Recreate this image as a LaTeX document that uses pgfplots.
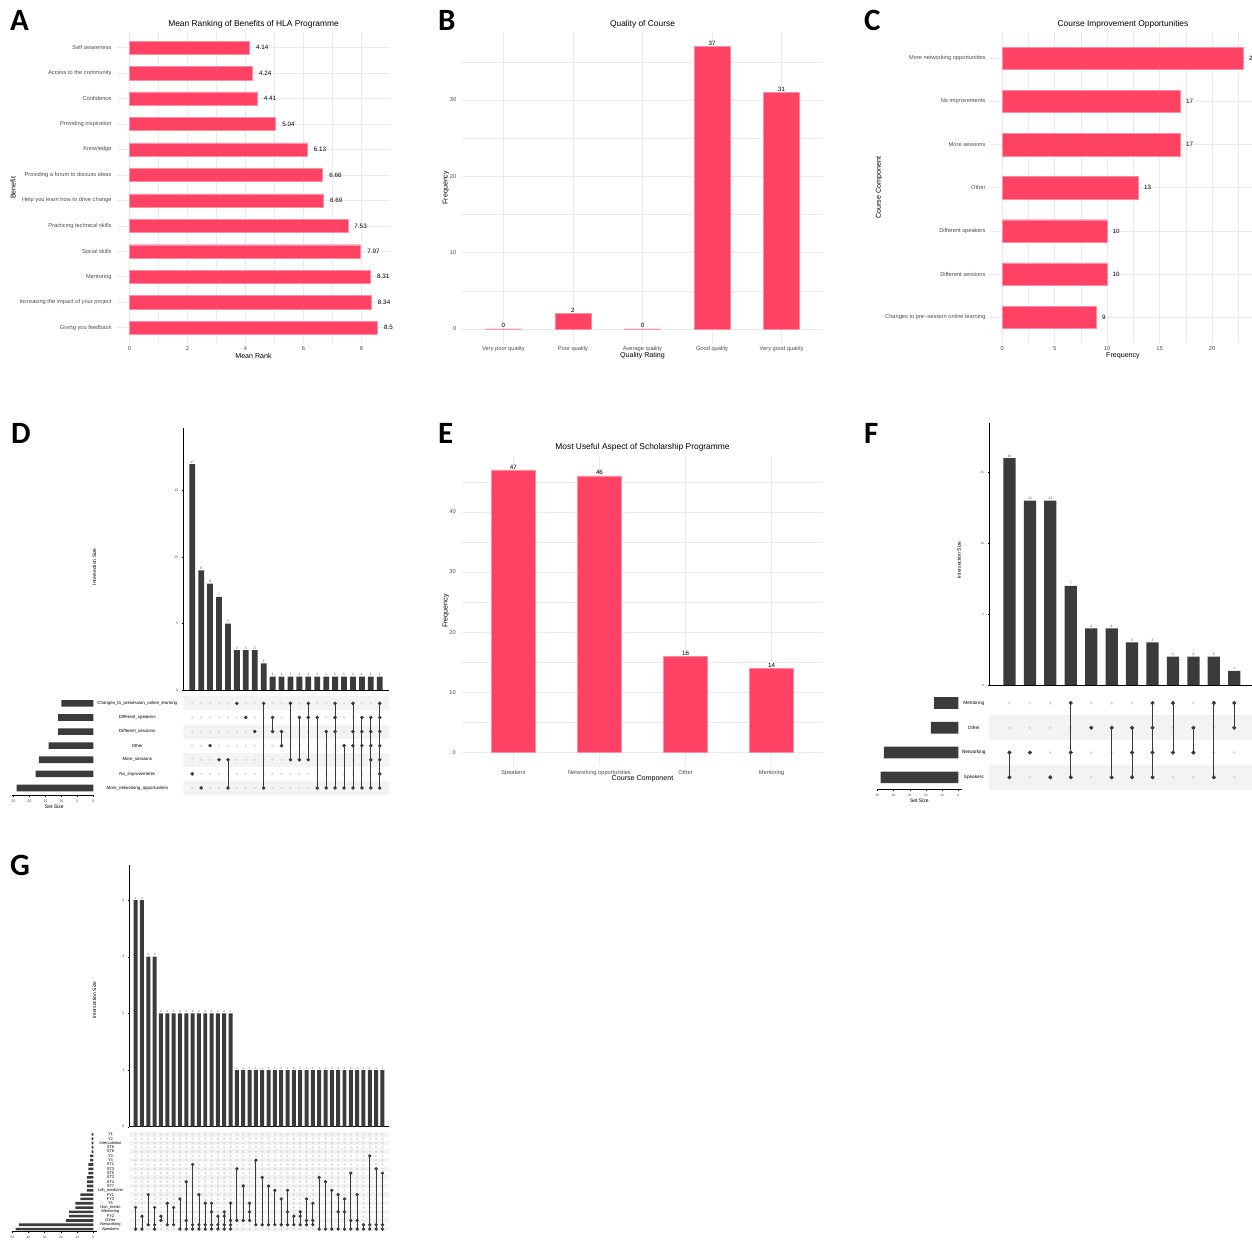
\documentclass[border=0pt]{standalone}
\usepackage{pgfplots}
\pgfplotsset{compat=1.18}
\usepackage{pgfplotstable}
\usepackage{fontspec}
\setmainfont{Liberation Sans}
\newfontfamily\lf{Carlito}
\newcommand{\fs}[1]{\fontsize{#1}{#1}\selectfont}

\definecolor{barc}{HTML}{FF4263}
\definecolor{barb}{HTML}{FF8FA3}
\definecolor{gridc}{HTML}{EBEBEB}
\definecolor{tickc}{HTML}{4D4D4D}
\definecolor{dk}{HTML}{3B3B3B}
\definecolor{ltc}{HTML}{DCDCDC}
\definecolor{stripe}{HTML}{F3F3F3}

\pgfplotsset{
 /pgf/number format/assume math mode=true,
 gg/.style={scale only axis, clip=false, axis line style={draw=none}, major tick length=0pt, minor tick length=0pt,
  major grid style={line width=0.7pt, draw=gridc}, minor grid style={line width=0.35pt, draw=gridc},
  tick label style={font=\fs{5.7}, text=tickc}},
 ggbar/.style={fill=barc, draw=barb, line width=0.45pt},
 up/.style={scale only axis, clip=false, axis x line*=bottom, axis y line*=left,
  axis line style={-, line width=0.7pt, black}, tick style={black, line width=0.4pt},
  major tick length=1.5pt, tick align=outside, tick label style={font=\fs{3.6}, text=tickc},
  xtick=\empty, ybar, nodes near coords,
  every node near coord/.append style={font=\fs{3.4}, text=tickc, inner sep=0.8pt}},
 upbar/.style={fill=dk, draw=none},
 mat/.style={scale only axis, clip=true, clip marker paths=true, axis line style={draw=none}, xtick=\empty,
  major tick length=0pt, tick label style={font=\fs{4.4}, text=black}, yticklabel style={anchor=center}},
 lt/.style={only marks, mark=*, mark size=1pt, color=ltc},
 mk/.style={color=dk, line width=0.8pt, mark=*, mark size=1.35pt, mark options={solid}},
 ss/.style={scale only axis, clip=false, xbar, x dir=reverse, axis x line*=bottom, axis y line=none,
  axis line style={-, line width=0.7pt, black}, tick style={black, line width=0.4pt},
  major tick length=1.5pt, tick align=outside, tick label style={font=\fs{3.6}, text=tickc}, ytick=\empty},
}

\pgfplotstableread{
y v lab
1 8.55 8.5
2 8.34 8.34
3 8.31 8.31
4 7.97 7.97
5 7.53 7.53
6 6.69 6.69
7 6.66 6.66
8 6.13 6.13
9 5.04 5.04
10 4.41 4.41
11 4.24 4.24
12 4.14 4.14
}\dataA

\newcommand{\ltD}[1]{\addplot[lt] coordinates {(#1,1)(#1,2)(#1,3)(#1,4)(#1,5)(#1,6)(#1,7)};}
\newcommand{\ltF}[1]{\addplot[lt, mark size=1.3pt] coordinates {(#1,1)(#1,2)(#1,3)(#1,4)};}
\newcommand{\ltG}[1]{\addplot[lt, mark size=0.95pt] coordinates {(#1,1)(#1,2)(#1,3)(#1,4)(#1,5)(#1,6)(#1,7)(#1,8)(#1,9)(#1,10)(#1,11)(#1,12)(#1,13)(#1,14)(#1,15)(#1,16)(#1,17)(#1,18)(#1,19)(#1,20)(#1,21)(#1,22)(#1,23)};}
\newcommand{\gc}[1]{\addplot[mk, mark size=1.25pt] coordinates {#1};}

\begin{document}
\begin{tikzpicture}
\useasboundingbox (0,0) rectangle (1252pt,-1240pt);

% ---------------- A ----------------
\begin{axis}[gg, at={(117pt,-32.4pt)}, anchor=north west, width=273pt, height=310.6pt,
  xbar, xmin=-0.43, xmax=8.98, ymin=0.4, ymax=12.6, bar width=0.52,
  xtick={0,2,4,6,8}, minor xtick={1,3,5,7}, xmajorgrids, xminorgrids, ymajorgrids,
  ytick={1,...,12},
  yticklabels={Giving you feedback, Increasing the impact of your project, Mentoring, Social skills, Practicing technical skills, Help you learn how to drive change, Providing a forum to discuss ideas, Knowledge, Providing inspiration, Confidence, Access to the community, Self awareness},
  yticklabel style={xshift=-2pt},
  nodes near coords, point meta=explicit symbolic, nodes near coords align=horizontal,
  every node near coord/.append style={font=\fs{6.3}, text=black, anchor=west, xshift=3pt}]
\addplot[ggbar] table[x=v, y=y, meta=lab] {\dataA};
\end{axis}

% ---------------- B ----------------
\begin{axis}[gg, at={(461.7pt,-32.3pt)}, anchor=north west, width=361.6pt, height=310.7pt,
  ybar, xmin=0.4, xmax=5.6, ymin=-1.85, ymax=38.85, bar width=0.52,
  xtick={1,...,5}, xticklabels={Very poor quality, Poor quality, Average quality, Good quality, Very good quality},
  ytick={0,10,20,30}, minor ytick={5,15,25,35}, xmajorgrids, ymajorgrids, yminorgrids,
  yticklabel style={xshift=-2pt},
  nodes near coords, every node near coord/.append style={font=\fs{6.2}, text=black, inner sep=0.6pt}]
\addplot[ggbar] coordinates {(1,0)(2,2)(3,0)(4,37)(5,31)};
\end{axis}

% ---------------- C ----------------
\begin{axis}[gg, at={(990pt,-32.4pt)}, anchor=north west, width=265.65pt, height=310.8pt,
  xbar, xmin=-1.15, xmax=24.15, ymin=0.4, ymax=7.6, bar width=0.52,
  xtick={0,5,10,15,20}, minor xtick={2.5,7.5,12.5,17.5,22.5}, xmajorgrids, xminorgrids, ymajorgrids,
  ytick={1,...,7},
  yticklabels={Changes to pre−session online learning, Different sessions, Different speakers, Other, More sessions, No improvements, More networking opportunities},
  yticklabel style={xshift=-1pt},
  nodes near coords, nodes near coords align=horizontal,
  every node near coord/.append style={font=\fs{6.2}, text=black, anchor=west, xshift=2pt}]
\addplot[ggbar] coordinates {(9,1)(10,2)(10,3)(13,4)(17,5)(17,6)(23,7)};
\end{axis}

% ---------------- E ----------------
\begin{axis}[gg, at={(461.7pt,-455.7pt)}, anchor=north west, width=361.6pt, height=310.7pt,
  ybar, xmin=0.4, xmax=4.6, ymin=-2.35, ymax=49.35, bar width=0.51,
  xtick={1,...,4}, xticklabels={Speakers, Networking opportunities, Other, Mentoring},
  ytick={0,10,20,30,40}, minor ytick={5,15,25,35,45}, xmajorgrids, ymajorgrids, yminorgrids,
  yticklabel style={xshift=-2.5pt},
  nodes near coords, every node near coord/.append style={font=\fs{6.2}, text=black, inner sep=0.6pt}]
\addplot[ggbar] coordinates {(1,47)(2,46)(3,16)(4,14)};
\end{axis}

% ---------------- D ----------------
\begin{axis}[up, at={(183.3pt,-690pt)}, anchor=south west, width=205.4pt, height=261.8pt,
  xmin=0, xmax=23, ymin=0, ymax=19.7, ytick={0,5,10,15}, bar width=0.65]
\addplot[upbar] coordinates {(1,17)(2,9)(3,8)(4,7)(5,5)(6,3)(7,3)(8,3)(9,2)(10,1)(11,1)(12,1)(13,1)(14,1)(15,1)(16,1)(17,1)(18,1)(19,1)(20,1)(21,1)(22,1)};
\end{axis}
\begin{axis}[mat, at={(183.3pt,-696.3pt)}, anchor=north west, width=206pt, height=98.7pt,
  xmin=0, xmax=23.07, ymin=0.5, ymax=7.5, ytick={1,...,7},
  yticklabels={More\_networking\_opportunities, No\_improvements, More\_sessions, Other, Different\_sessions, Different\_speakers, Changes\_to\_presession\_online\_learning},
  yticklabel style={xshift=-46pt}]
\fill[stripe] (axis cs:0,0.5) rectangle (axis cs:23.07,1.5);
\fill[stripe] (axis cs:0,2.5) rectangle (axis cs:23.07,3.5);
\fill[stripe] (axis cs:0,4.5) rectangle (axis cs:23.07,5.5);
\fill[stripe] (axis cs:0,6.5) rectangle (axis cs:23.07,7.5);
\pgfplotsinvokeforeach{1,...,22}{\ltD{#1}}
\addplot[mk] coordinates {(1,2)};
\addplot[mk] coordinates {(2,1)};
\addplot[mk] coordinates {(3,4)};
\addplot[mk] coordinates {(4,3)};
\addplot[mk] coordinates {(5,1)(5,3)};
\addplot[mk] coordinates {(6,7)};
\addplot[mk] coordinates {(7,6)};
\addplot[mk] coordinates {(8,5)};
\addplot[mk] coordinates {(9,1)(9,7)};
\addplot[mk] coordinates {(10,5)(10,6)};
\addplot[mk] coordinates {(11,4)(11,5)};
\addplot[mk] coordinates {(12,3)(12,7)};
\addplot[mk] coordinates {(13,3)(13,6)};
\addplot[mk] coordinates {(14,3)(14,6)(14,7)};
\addplot[mk] coordinates {(15,1)(15,6)};
\addplot[mk] coordinates {(16,1)(16,5)};
\addplot[mk] coordinates {(17,1)(17,5)(17,6)(17,7)};
\addplot[mk] coordinates {(18,1)(18,4)};
\addplot[mk] coordinates {(19,1)(19,4)(19,5)(19,7)};
\addplot[mk] coordinates {(20,1)(20,4)(20,5)(20,6)};
\addplot[mk] coordinates {(21,1)(21,3)(21,4)(21,5)(21,6)};
\addplot[mk] coordinates {(22,1)(22,2)(22,3)(22,4)(22,5)(22,6)(22,7)};
\end{axis}
\begin{axis}[ss, at={(11.7pt,-696.3pt)}, anchor=north west, width=82.6pt, height=98.7pt,
  xmin=-0.3, xmax=25.5, ymin=0.5, ymax=7.5, xtick={0,5,10,15,20,25}, bar width=0.47]
\addplot[upbar] coordinates {(24,1)(18,2)(17,3)(14,4)(11,5)(11,6)(10,7)};
\end{axis}

% ---------------- F ----------------
\begin{axis}[up, at={(989pt,-685pt)}, anchor=south west, width=265.7pt, height=261.6pt,
  xmin=0, xmax=13, ymin=0, ymax=18.45, ytick={0,5,10,15}, bar width=0.6,
  tick label style={font=\fs{3.2}}]
\addplot[upbar] coordinates {(1,16)(2,13)(3,13)(4,7)(5,4)(6,4)(7,3)(8,3)(9,2)(10,2)(11,2)(12,1)};
\end{axis}
\begin{axis}[mat, at={(989pt,-690.6pt)}, anchor=north west, width=265.7pt, height=99.1pt,
  xmin=0, xmax=13, ymin=0.5, ymax=4.5, ytick={1,...,4},
  yticklabels={Speakers, Networking, Other, Mentoring},
  yticklabel style={xshift=-15.2pt, font=\fs{4.7}}]
\fill[stripe] (axis cs:0,0.5) rectangle (axis cs:13,1.5);
\fill[stripe] (axis cs:0,2.5) rectangle (axis cs:13,3.5);
\pgfplotsinvokeforeach{1,...,12}{\ltF{#1}}
\addplot[mk, mark size=1.6pt] coordinates {(1,1)(1,2)};
\addplot[mk, mark size=1.6pt] coordinates {(2,2)};
\addplot[mk, mark size=1.6pt] coordinates {(3,1)};
\addplot[mk, mark size=1.6pt] coordinates {(4,1)(4,2)(4,4)};
\addplot[mk, mark size=1.6pt] coordinates {(5,3)};
\addplot[mk, mark size=1.6pt] coordinates {(6,1)(6,3)};
\addplot[mk, mark size=1.6pt] coordinates {(7,1)(7,2)(7,3)};
\addplot[mk, mark size=1.6pt] coordinates {(8,1)(8,2)(8,3)(8,4)};
\addplot[mk, mark size=1.6pt] coordinates {(9,2)(9,4)};
\addplot[mk, mark size=1.6pt] coordinates {(10,2)(10,3)};
\addplot[mk, mark size=1.6pt] coordinates {(11,1)(11,4)};
\addplot[mk, mark size=1.6pt] coordinates {(12,3)(12,4)};
\end{axis}
\begin{axis}[ss, at={(877.3pt,-690.6pt)}, anchor=north west, width=84.4pt, height=99.1pt,
  xmin=-2.1, xmax=50, ymin=0.5, ymax=4.5, xtick={0,10,20,30,40,50}, bar width=0.47,
  tick label style={font=\fs{3.2}}]
\addplot[upbar] coordinates {(48,1)(46,2)(17,3)(15,4)};
\end{axis}

% ---------------- G ----------------
\begin{axis}[up, at={(129.3pt,-1126.7pt)}, anchor=south west, width=259.5pt, height=261.8pt,
  xmin=0, xmax=41, ymin=0, ymax=4.62, ytick={0,1,2,3,4}, bar width=0.63,
  every node near coord/.append style={font=\fs{3}}]
\addplot[upbar] coordinates {(1,4)(2,4)(3,3)(4,3)(5,2)(6,2)(7,2)(8,2)(9,2)(10,2)(11,2)(12,2)(13,2)(14,2)(15,2)(16,2)(17,1)(18,1)(19,1)(20,1)(21,1)(22,1)(23,1)(24,1)(25,1)(26,1)(27,1)(28,1)(29,1)(30,1)(31,1)(32,1)(33,1)(34,1)(35,1)(36,1)(37,1)(38,1)(39,1)(40,1)};
\end{axis}
\begin{axis}[mat, at={(129.3pt,-1132.2pt)}, anchor=north west, width=260pt, height=99pt,
  xmin=0, xmax=41.08, ymin=0.5, ymax=23.5, ytick={1,...,23},
  yticklabels={Speakers, Networking, Other, FY2, Mentoring, Non\_medic, Y5, FY3, FY1, Left\_medicine, ST7, ST4, ST2, ST5, ST3, ST1, Y4, Y3, ST6, ST8, Intercalation, Y2, Y1},
  yticklabel style={xshift=-18.8pt, font=\fs{4}}]
\pgfplotsinvokeforeach{1,3,...,23}{\fill[stripe] (axis cs:0,#1-0.5) rectangle (axis cs:41.08,#1+0.5);}
\pgfplotsinvokeforeach{1,...,40}{\ltG{#1}}
\gc{(1,1)(1,6)}
\gc{(2,1)(2,4)}
\gc{(3,2)(3,9)}
\gc{(4,1)(4,2)(4,6)}
\gc{(5,3)(5,4)}
\gc{(6,2)(6,7)}
\gc{(7,2)(7,6)}
\gc{(8,1)(8,8)}
\gc{(9,1)(9,3)(9,12)}
\gc{(10,1)(10,2)(10,16)}
\gc{(11,1)(11,2)(11,9)}
\gc{(12,1)(12,2)(12,7)}
\gc{(13,1)(13,2)(13,5)(13,7)}
\gc{(14,1)(14,2)(14,4)}
\gc{(15,1)(15,2)(15,4)(15,5)}
\gc{(16,1)(16,2)(16,3)(16,7)}
\gc{(17,3)(17,15)}
\gc{(18,3)(18,11)}
\gc{(19,3)(19,5)(19,7)}
\gc{(20,2)(20,17)}
\gc{(21,2)(21,13)}
\gc{(22,2)(22,11)}
\gc{(23,2)(23,10)}
\gc{(24,2)(24,8)}
\gc{(25,2)(25,5)(25,10)}
\gc{(26,2)(26,4)}
\gc{(27,2)(27,4)(27,5)}
\gc{(28,2)(28,3)(28,8)}
\gc{(29,2)(29,3)(29,7)}
\gc{(30,1)(30,13)}
\gc{(31,1)(31,12)}
\gc{(32,1)(32,10)}
\gc{(33,1)(33,5)(33,9)}
\gc{(34,1)(34,5)(34,8)}
\gc{(35,1)(35,3)(35,14)}
\gc{(36,1)(36,3)(36,9)}
\gc{(37,1)(37,2)}
\gc{(38,1)(38,2)(38,18)}
\gc{(39,1)(39,2)(39,15)}
\gc{(40,1)(40,2)(40,14)}
\end{axis}
\begin{axis}[ss, at={(11.7pt,-1132.2pt)}, anchor=north west, width=85pt, height=99pt,
  xmin=-2.1, xmax=50.37, ymin=0.5, ymax=23.5, xtick={0,10,20,30,40,50}, bar width=0.6,
  tick label style={font=\fs{3.2}}]
\addplot[upbar] coordinates {(48,1)(46,2)(17,3)(15,4)(15,5)(11,6)(11,7)(8,8)(8,9)(4,10)(4,11)(4,12)(4,13)(3,14)(3,15)(3,16)(2,17)(2,18)(1,19)(1,20)(1,21)(1,22)(1,23)};
\end{axis}

% ---------------- texts ----------------
\node[font=\fs{8.4}] at (253.5pt,-24pt) {Mean Ranking of Benefits of HLA Programme};
\node[font=\fs{7.1}] at (253.5pt,-356pt) {Mean Rank};
\node[font=\fs{7.1}, rotate=90] at (13pt,-187.7pt) {Benefit};
\node[font=\fs{8.4}] at (642.5pt,-24pt) {Quality of Course};
\node[font=\fs{7.1}] at (642.5pt,-356pt) {Quality Rating};
\node[font=\fs{7.1}, rotate=90] at (446pt,-187.7pt) {Frequency};
\node[font=\fs{8.4}] at (1123pt,-24pt) {Course Improvement Opportunities};
\node[font=\fs{7.1}] at (1123pt,-356pt) {Frequency};
\node[font=\fs{7.1}, rotate=90] at (879pt,-187.7pt) {Course Component};
\node[font=\fs{8.4}] at (642.5pt,-447.3pt) {Most Useful Aspect of Scholarship Programme};
\node[font=\fs{7.1}] at (642.5pt,-779pt) {Course Component};
\node[font=\fs{7.1}, rotate=90] at (446pt,-611pt) {Frequency};
\node[font=\fs{5}, rotate=90] at (94.3pt,-566.7pt) {Intersection Size};
\node[font=\fs{5}] at (54.3pt,-806.7pt) {Set Size};
\node[font=\fs{5}, rotate=90] at (959pt,-560pt) {Intersection Size};
\node[font=\fs{5}] at (919.3pt,-801pt) {Set Size};
\node[font=\fs{5}, rotate=90] at (94.3pt,-1000pt) {Intersection Size};

\node[anchor=base west, inner sep=0, font=\lf\bfseries\fs{31}] at (10pt,-30.7pt) {A};
\node[anchor=base west, inner sep=0, font=\lf\bfseries\fs{31}] at (438pt,-30.7pt) {B};
\node[anchor=base west, inner sep=0, font=\lf\bfseries\fs{31}] at (864pt,-30.7pt) {C};
\node[anchor=base west, inner sep=0, font=\lf\bfseries\fs{31}] at (11pt,-443.3pt) {D};
\node[anchor=base west, inner sep=0, font=\lf\bfseries\fs{31}] at (438pt,-443.3pt) {E};
\node[anchor=base west, inner sep=0, font=\lf\bfseries\fs{31}] at (864pt,-443.3pt) {F};
\node[anchor=base west, inner sep=0, font=\lf\bfseries\fs{31}] at (10pt,-875pt) {G};
\end{tikzpicture}
\end{document}
